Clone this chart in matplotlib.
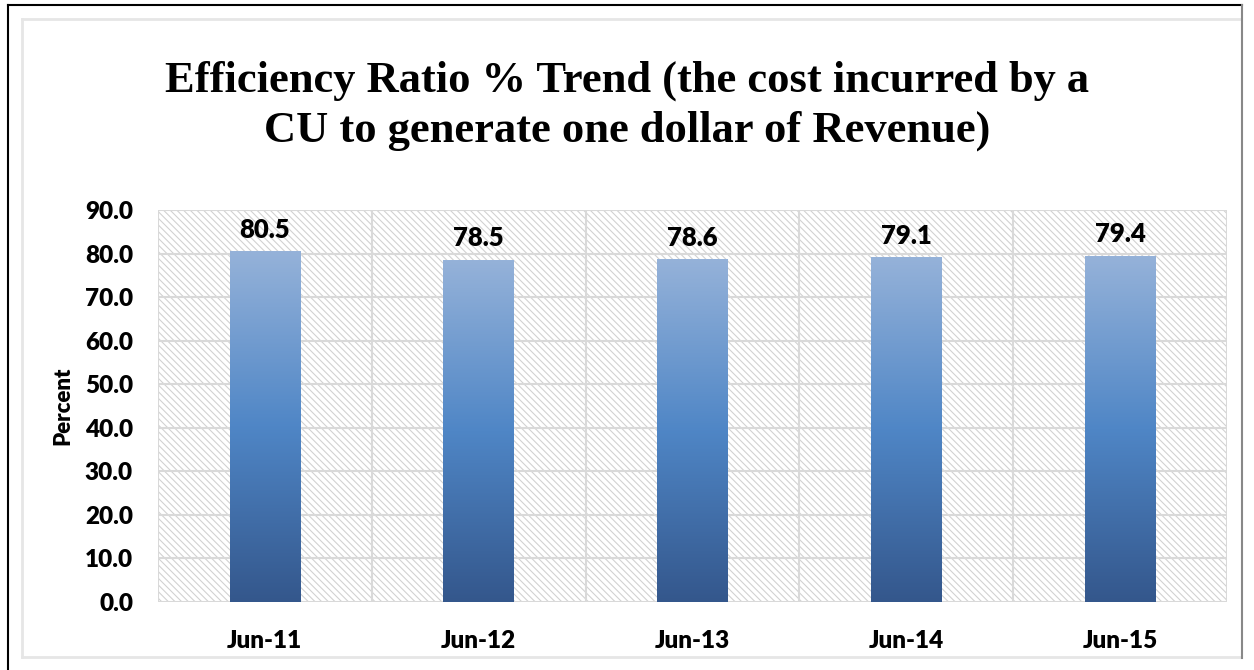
import numpy as np
import matplotlib
matplotlib.use("Agg")
import matplotlib.pyplot as plt
from matplotlib.colors import LinearSegmentedColormap
from matplotlib.patches import Rectangle
from matplotlib.lines import Line2D

# data
categories = ["Jun-11", "Jun-12", "Jun-13", "Jun-14", "Jun-15"]
ratios = [80.5, 78.5, 78.6, 79.1, 79.4]
yticks = [0, 10, 20, 30, 40, 50, 60, 70, 80, 90]

title = "Efficiency Ratio % Trend (the cost incurred by a\nCU to generate one dollar of Revenue)"

plt.rcParams["hatch.linewidth"] = 0.8
plt.rcParams["hatch.color"] = "#d2d2d2"

W, H = 1254, 670
fig = plt.figure(figsize=(W / 100, H / 100), dpi=100)
ax = fig.add_axes([158 / W, 1 - 602 / H, (1227 - 158) / W, (602 - 210) / H])

# hatched plot area
ax.add_patch(Rectangle((0, 0), 1, 1, transform=ax.transAxes, facecolor="white",
                       edgecolor="#d2d2d2", hatch="\\" * 5, lw=0, zorder=0))

x = np.arange(len(categories))

# gridlines
for yv in yticks:
    ax.axhline(yv, color="#d9d9d9", lw=1.5, zorder=1)
for xv in np.arange(-0.5, len(categories), 1.0):
    ax.axvline(xv, color="#d9d9d9", lw=1.5, zorder=1)

# gradient bars
cmap = LinearSegmentedColormap.from_list("bar", ["#34578c", "#4f86c6", "#95b2d9"])
grad = np.linspace(0, 1, 256).reshape(-1, 1)
bw = 0.33
wt = "heavy"
for xi, v in zip(x, ratios):
    ax.imshow(grad, cmap=cmap, origin="lower", aspect="auto",
              extent=[xi - bw / 2, xi + bw / 2, 0, v], zorder=2)
    ax.annotate(f"{v:.1f}", (xi, v), xytext=(0, 7), textcoords="offset points",
                ha="center", va="bottom", fontsize=18.5, fontweight=wt,
                family="Lato")

ax.set_xlim(-0.5, len(categories) - 0.5)
ax.set_ylim(0, 90)
ax.set_xticks(x)
ax.set_xticklabels(categories, fontsize=17.5, fontweight=wt, family="Lato")
ax.set_yticks(yticks)
ax.set_yticklabels([f"{t:.1f}" for t in yticks], fontsize=17.5, fontweight=wt, family="Lato")
ax.tick_params(length=0, pad=18)
ax.tick_params(axis="x", pad=20)
for s in ax.spines.values():
    s.set_visible(False)
ax.set_ylabel("Percent", fontsize=16, fontweight=wt, family="Lato", labelpad=8)

fig.text(0.5, 1 - 106 / H, title, ha="center", va="center", fontsize=32,
         fontweight="bold", family="Liberation Serif", linespacing=1.3)

# chart frame
def fl(x0, y0, x1, y1, c, lw):
    fig.add_artist(Line2D([x0 / W, x1 / W], [1 - y0 / H, 1 - y1 / H], color=c, lw=lw))

fl(22, 19, 1240, 19, "#e6e6e6", 2)
fl(22, 19, 22, 657, "#e6e6e6", 2)
fl(22, 657, 1240, 657, "#e6e6e6", 2)
fl(8, 5, 1242, 5, "black", 1.5)
fl(8, 5, 8, 670, "black", 1.5)
fl(1242, 5, 1242, 658, "#888888", 1.5)

fig.savefig("out.png", dpi=100)
